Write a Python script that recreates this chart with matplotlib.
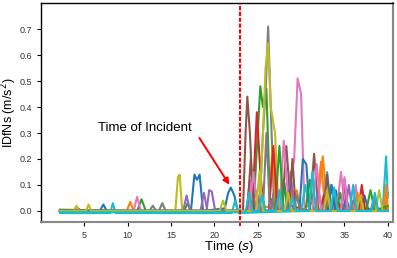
import matplotlib
matplotlib.use('Agg')
import matplotlib.pyplot as plt

plt.rcParams['font.family'] = ['Liberation Sans', 'DejaVu Sans']

# each run: time points (s) and IDfNs values (m/s^2)
t0 = [2.2, 6.8, 7.2, 7.6, 17.3, 17.7, 18.0, 18.3, 18.7, 21.2, 21.6, 21.9, 22.3, 22.7, 24.5, 25.0, 25.5, 27.5, 28.0, 28.5, 33.5, 34.0, 34.5, 40.0]
y0 = [0.0, 0.0, 0.025, 0.0, 0.0, 0.14, 0.12, 0.14, 0.0, 0.01, 0.07, 0.09, 0.06, 0.0, 0.0, 0.05, 0.0, 0.0, 0.12, 0.0, 0.0, 0.08, 0.0, 0.01]
t1 = [2.2, 9.9, 10.3, 10.7, 24.0, 24.6, 25.2, 29.0, 29.5, 30.0, 32.0, 32.5, 33.0, 36.0, 36.5, 37.0, 39.6, 40.0]
y1 = [0.0, 0.0, 0.035, 0.0, 0.0, 0.1, 0.02, 0.0, 0.08, 0.0, 0.05, 0.21, 0.03, 0.0, 0.06, 0.0, 0.0, 0.07]
t2 = [2.2, 11.1, 11.6, 12.1, 16.5, 16.9, 17.3, 24.5, 25.0, 25.3, 25.6, 26.0, 26.4, 27.6, 28.0, 28.4, 33.0, 33.5, 34.0, 40.0]
y2 = [0.005, 0.0, 0.045, 0.0, 0.0, 0.03, 0.0, 0.0, 0.3, 0.48, 0.4, 0.47, 0.05, 0.0, 0.12, 0.0, 0.0, 0.1, 0.0, 0.01]
t3 = [2.2, 4.0, 4.3, 4.6, 24.0, 24.5, 24.9, 25.3, 25.7, 26.5, 27.0, 27.5, 33.8, 34.2, 34.6, 36.4, 36.8, 37.2, 40.0]
y3 = [0.0, 0.0, 0.01, 0.0, 0.0, 0.1, 0.38, 0.15, 0.0, 0.0, 0.1, 0.0, 0.0, 0.05, 0.0, 0.0, 0.06, 0.0, 0.0]
t4 = [2.2, 16.4, 16.8, 17.2, 19.1, 19.4, 19.7, 20.1, 26.5, 27.0, 27.5, 34.5, 35.0, 35.5, 40.0]
y4 = [0.0, 0.0, 0.06, 0.0, 0.0, 0.08, 0.075, 0.0, 0.0, 0.1, 0.0, 0.0, 0.08, 0.0, 0.0]
t5 = [2.2, 23.3, 23.6, 23.8, 24.1, 24.5, 27.8, 28.3, 28.8, 31.0, 31.5, 32.0, 40.0]
y5 = [0.0, 0.0, 0.3, 0.44, 0.3, 0.0, 0.0, 0.25, 0.02, 0.0, 0.22, 0.0, 0.0]
t6 = [2.2, 10.7, 11.1, 11.5, 23.7, 24.1, 24.5, 27.5, 28.0, 28.5, 29.2, 29.6, 30.0, 30.4, 34.1, 34.6, 35.1, 35.9, 36.3, 36.7, 40.0]
y6 = [0.0, 0.0, 0.055, 0.0, 0.0, 0.12, 0.0, 0.0, 0.27, 0.05, 0.2, 0.51, 0.45, 0.0, 0.0, 0.15, 0.0, 0.0, 0.1, 0.0, 0.0]
t7 = [2.2, 13.6, 14.0, 14.4, 25.2, 25.6, 25.9, 26.2, 26.5, 26.9, 40.0]
y7 = [0.0, 0.0, 0.03, 0.0, 0.0, 0.3, 0.45, 0.71, 0.4, 0.0, 0.0]
t8 = [2.2, 3.8, 4.1, 4.4, 15.5, 15.8, 16.0, 16.3, 25.2, 25.6, 25.9, 26.2, 26.5, 27.0, 27.4, 40.0]
y8 = [0.0, 0.0, 0.02, 0.0, 0.0, 0.13, 0.14, 0.0, 0.0, 0.3, 0.55, 0.645, 0.4, 0.3, 0.0, 0.0]
t9 = [2.2, 8.0, 8.3, 8.6, 22.0, 22.4, 22.8, 30.0, 30.5, 31.0, 32.5, 33.0, 33.5, 39.4, 39.8, 40.0]
y9 = [-0.008, -0.008, 0.03, -0.008, -0.008, 0.04, -0.008, 0.0, 0.1, 0.0, 0.0, 0.15, 0.0, 0.0, 0.21, 0.05]
t10 = [2.2, 25.1, 25.5, 25.9, 29.8, 30.2, 30.6, 31.0, 33.1, 33.5, 33.9, 34.8, 35.2, 35.6, 36.8, 37.3, 37.8, 40.0]
y10 = [0.0, 0.0, 0.06, 0.0, 0.0, 0.2, 0.18, 0.0, 0.0, 0.1, 0.0, 0.0, 0.05, 0.0, 0.0, 0.06, 0.0, 0.0]
t11 = [2.2, 24.1, 24.5, 24.9, 26.3, 26.7, 27.1, 28.6, 29.0, 29.4, 31.8, 32.3, 32.8, 36.1, 36.5, 36.9, 39.5, 39.8, 40.0]
y11 = [0.0, 0.0, 0.05, 0.0, 0.0, 0.25, 0.0, 0.0, 0.08, 0.0, 0.0, 0.19, 0.0, 0.0, 0.07, 0.0, 0.0, 0.1, 0.0]
t12 = [2.2, 23.8, 24.2, 24.6, 27.0, 27.5, 28.0, 30.5, 31.0, 31.5, 34.1, 34.5, 34.9, 37.5, 38.0, 38.5, 40.0]
y12 = [0.0, 0.0, 0.04, 0.0, 0.0, 0.25, 0.0, 0.0, 0.12, 0.0, 0.0, 0.07, 0.0, 0.0, 0.08, 0.0, 0.02]
t13 = [2.2, 26.3, 26.8, 27.3, 32.2, 32.6, 33.0, 34.6, 35.0, 35.4, 36.6, 37.0, 37.4, 40.0]
y13 = [0.0, 0.0, 0.25, 0.0, 0.0, 0.06, 0.0, 0.0, 0.12, 0.0, 0.0, 0.1, 0.0, 0.0]
t14 = [2.2, 18.4, 18.8, 19.2, 24.6, 25.0, 25.4, 28.4, 28.8, 29.2, 31.6, 32.0, 32.4, 35.1, 35.5, 35.9, 38.0, 38.4, 38.8, 40.0]
y14 = [0.0, 0.0, 0.07, 0.0, 0.0, 0.06, 0.0, 0.0, 0.15, 0.0, 0.0, 0.08, 0.0, 0.0, 0.1, 0.0, 0.0, 0.05, 0.0, 0.0]
t15 = [2.2, 23.8, 24.2, 24.6, 28.6, 29.0, 29.4, 32.6, 33.0, 33.4, 40.0]
y15 = [0.0, 0.0, 0.2, 0.0, 0.0, 0.2, 0.0, 0.0, 0.14, 0.0, 0.0]
t16 = [2.2, 24.0, 24.5, 25.0, 31.3, 31.8, 32.3, 34.6, 35.0, 35.4, 40.0]
y16 = [0.0, 0.0, 0.15, 0.0, 0.0, 0.18, 0.0, 0.0, 0.13, 0.0, 0.0]
t17 = [2.2, 12.5, 12.9, 13.3, 25.6, 26.0, 26.4, 29.1, 29.5, 29.9, 32.8, 33.2, 33.6, 35.5, 36.0, 36.5, 38.1, 38.5, 38.9, 40.0]
y17 = [0.0, 0.0, 0.02, 0.0, 0.0, 0.3, 0.0, 0.0, 0.06, 0.0, 0.0, 0.05, 0.0, 0.0, 0.04, 0.0, 0.0, 0.04, 0.0, 0.0]
t18 = [2.2, 5.2, 5.5, 5.8, 20.6, 21.0, 21.4, 24.8, 25.2, 25.6, 28.1, 28.5, 28.9, 32.6, 33.0, 33.4, 36.4, 36.8, 37.2, 38.6, 39.0, 39.4, 40.0]
y18 = [0.0, 0.0, 0.025, 0.0, 0.0, 0.04, 0.0, 0.0, 0.15, 0.0, 0.0, 0.07, 0.0, 0.0, 0.08, 0.0, 0.0, 0.06, 0.0, 0.0, 0.08, 0.0, 0.0]
t19 = [2.2, 23.6, 24.0, 24.4, 25.1, 25.5, 25.9, 27.1, 27.5, 27.9, 28.6, 29.0, 29.4, 30.9, 31.3, 31.7, 33.4, 33.8, 34.2, 35.6, 36.0, 36.4, 38.1, 38.5, 38.9, 40.0]
y19 = [-0.005, -0.005, 0.07, 0.0, 0.0, 0.06, 0.0, 0.0, 0.08, 0.0, 0.0, 0.05, 0.0, 0.0, 0.15, 0.0, 0.0, 0.09, 0.0, 0.0, 0.1, 0.0, 0.0, 0.07, 0.0, 0.0]

incident_time = 23.0

runs = [(t0, y0), (t1, y1), (t2, y2), (t3, y3), (t4, y4), (t5, y5), (t6, y6), (t7, y7), (t8, y8), (t9, y9),
        (t10, y10), (t11, y11), (t12, y12), (t13, y13), (t14, y14), (t15, y15), (t16, y16), (t17, y17),
        (t18, y18), (t19, y19)]

fig = plt.figure(figsize=(3.97, 2.58), dpi=100)
ax = fig.add_axes([0.103, 0.14, 0.887, 0.848])

for t, y in runs:
    ax.plot(t, y, lw=1.5)

ax.axvline(incident_time, ymin=-0.02, color='red', ls='--', dashes=(2, 0.8), lw=1.5, clip_on=False)

ax.text(6.6, 0.32, 'Time of Incident', fontsize=9.5, va='center')
ax.annotate('', xy=(21.9, 0.092), xytext=(18.1, 0.29),
            arrowprops=dict(arrowstyle='-|>', color='red', lw=1.4, mutation_scale=9))

ax.set_xlim(0, 40.6)
ax.set_ylim(-0.042, 0.8)
ax.set_xticks([5, 10, 15, 20, 25, 30, 35, 40])
ax.set_yticks([0.0, 0.1, 0.2, 0.3, 0.4, 0.5, 0.6, 0.7])
ax.tick_params(labelsize=6.5, labelcolor='#333333', length=3, width=0.8)

ax.set_xlabel('Time ($s$)', fontsize=9.5)
ax.set_ylabel('IDfNs (m/s$^2$)', fontsize=9)
ax.xaxis.set_label_coords(0.534, -0.08)
ax.yaxis.set_label_coords(-0.062, 0.5)

for side in ['right', 'bottom']:
    ax.spines[side].set_color('#888888')
    ax.spines[side].set_linewidth(1.5)
for side in ['left', 'top']:
    ax.spines[side].set_linewidth(1.0)

fig.savefig('out.png', dpi=100)
